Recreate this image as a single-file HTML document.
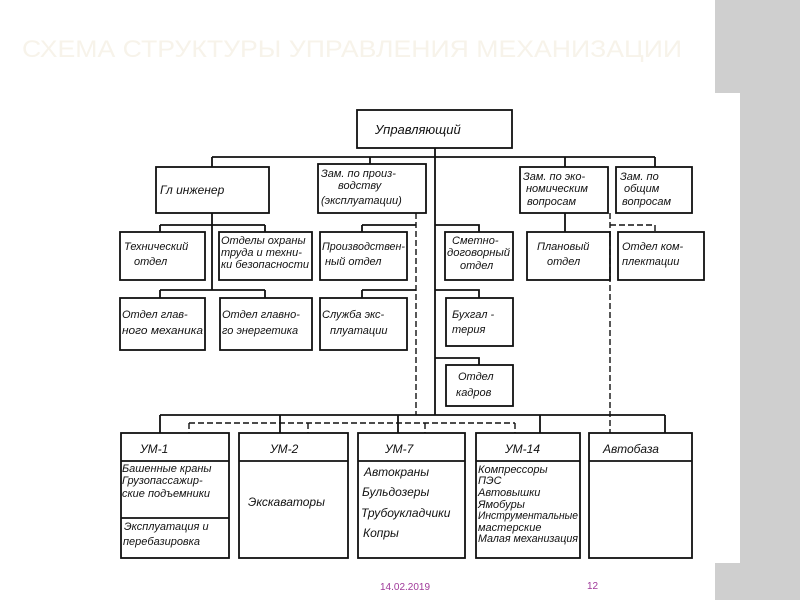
<!DOCTYPE html>
<html><head><meta charset="utf-8"><style>
body{margin:0;width:800px;height:600px;overflow:hidden;background:#fff;font-family:"Liberation Sans",sans-serif}
</style></head><body>
<svg width="800" height="600" xmlns="http://www.w3.org/2000/svg" style="position:absolute;left:0;top:0">
<rect x="715" y="0" width="85" height="93" fill="#cfcfcf"/>
<rect x="740" y="93" width="60" height="470" fill="#cfcfcf"/>
<rect x="715" y="563" width="85" height="37" fill="#cfcfcf"/>
<text x="22" y="57" font-size="24" fill="#f7f3ea" font-family="Liberation Sans,sans-serif" textLength="660" lengthAdjust="spacingAndGlyphs">СХЕМА СТРУКТУРЫ УПРАВЛЕНИЯ МЕХАНИЗАЦИИ</text>
<g fill="none" stroke="#111" stroke-width="1.8">
<rect x="357" y="110" width="155" height="38"/>
<rect x="156" y="167" width="113" height="46"/>
<rect x="318" y="164" width="108" height="49"/>
<rect x="520" y="167" width="88" height="46"/>
<rect x="616" y="167" width="76" height="46"/>
<rect x="120" y="232" width="85" height="48"/>
<rect x="219" y="232" width="93" height="48"/>
<rect x="320" y="232" width="87" height="48"/>
<rect x="445" y="232" width="68" height="48"/>
<rect x="527" y="232" width="83" height="48"/>
<rect x="618" y="232" width="86" height="48"/>
<rect x="120" y="298" width="85" height="52"/>
<rect x="220" y="298" width="92" height="52"/>
<rect x="320" y="298" width="87" height="52"/>
<rect x="446" y="298" width="67" height="48"/>
<rect x="446" y="365" width="67" height="41"/>
<rect x="121" y="433" width="108" height="125"/><line x1="121" y1="461" x2="229" y2="461"/><line x1="121" y1="518" x2="229" y2="518"/>
<rect x="239" y="433" width="109" height="125"/><line x1="239" y1="461" x2="348" y2="461"/>
<rect x="358" y="433" width="107" height="125"/><line x1="358" y1="461" x2="465" y2="461"/>
<rect x="476" y="433" width="104" height="125"/><line x1="476" y1="461" x2="580" y2="461"/>
<rect x="589" y="433" width="103" height="125"/><line x1="589" y1="461" x2="692" y2="461"/>
<path d="M435 148V415M212 157H655M212 157V167M370 157V164M565 157V167M655 157V167"/>
<path d="M212 213V290M160 225H265M160 225V232M265 225V232M160 290H265M160 290V298M265 290V298"/>
<path d="M362 225H416M362 225V232M362 290H416M362 290V298"/>
<path d="M435 225H479V232M435 290H479V298M435 358H479V365M565 213V232"/>
<path d="M160 415H665M160 415V433M280 415V433M398 415V433M540 415V433M665 415V433"/>
</g>
<g fill="none" stroke="#111" stroke-width="1.4" stroke-dasharray="6,3">
<path d="M416 213V415M610 213V433M610 225H655V232M189 423H515M189 423V433M308 423V433M425 423V433M515 423V433"/>
</g>
<g font-style="italic" font-size="11" fill="#111" font-family="Liberation Sans,sans-serif">
<text x="375" y="134" font-size="13">Управляющий</text>
<text x="160" y="194" font-size="12">Гл   инженер</text>
<text x="321" y="177">Зам. по произ-</text><text x="338" y="189">водству</text><text x="321" y="204">(эксплуатации)</text>
<text x="523" y="180">Зам. по эко-</text><text x="526" y="192">номическим</text><text x="527" y="205">вопросам</text>
<text x="620" y="180">Зам.  по</text><text x="624" y="192">общим</text><text x="622" y="205">вопросам</text>
<text x="124" y="250">Технический</text><text x="134" y="265">отдел</text>
<text x="221" y="244">Отделы охраны</text><text x="221" y="256">труда и техни-</text><text x="221" y="268" textLength="88" lengthAdjust="spacingAndGlyphs">ки безопасности</text>
<text x="322" y="250" textLength="83" lengthAdjust="spacingAndGlyphs">Производствен-</text><text x="325" y="265">ный отдел</text>
<text x="452" y="244">Сметно-</text><text x="447" y="256" textLength="63" lengthAdjust="spacingAndGlyphs">договорный</text><text x="460" y="269">отдел</text>
<text x="537" y="250">Плановый</text><text x="547" y="265">отдел</text>
<text x="622" y="250">Отдел ком-</text><text x="622" y="265">плектации</text>
<text x="122" y="318">Отдел глав-</text><text x="122" y="334" textLength="81" lengthAdjust="spacingAndGlyphs">ного механика</text>
<text x="222" y="318">Отдел главно-</text><text x="222" y="334">го энергетика</text>
<text x="322" y="318">Служба экс-</text><text x="330" y="334">плуатации</text>
<text x="452" y="318">Бухгал -</text><text x="452" y="333">терия</text>
<text x="458" y="380">Отдел</text><text x="456" y="396">кадров</text>
<text x="140" y="453" font-size="12">УМ-1</text>
<text x="270" y="453" font-size="12">УМ-2</text>
<text x="385" y="453" font-size="12">УМ-7</text>
<text x="505" y="453" font-size="12">УМ-14</text>
<text x="603" y="453" font-size="12">Автобаза</text>
<text x="122" y="472">Башенные  краны</text><text x="122" y="484">Грузопассажир-</text><text x="122" y="497" textLength="88" lengthAdjust="spacingAndGlyphs">ские  подъемники</text>
<text x="124" y="530">Эксплуатация  и</text><text x="123" y="545">перебазировка</text>
<text x="248" y="506" font-size="12">Экскаваторы</text>
<text x="364" y="476" font-size="12">Автокраны</text><text x="362" y="496" font-size="12">Бульдозеры</text><text x="361" y="517" font-size="12">Трубоукладчики</text><text x="363" y="537" font-size="12">Копры</text>
<text x="478" y="473">Компрессоры</text><text x="478" y="484">ПЭС</text><text x="478" y="496">Автовышки</text><text x="478" y="508">Ямобуры</text><text x="478" y="519" textLength="100" lengthAdjust="spacingAndGlyphs">Инструментальные</text><text x="478" y="531">мастерские</text><text x="478" y="542" textLength="100" lengthAdjust="spacingAndGlyphs">Малая механизация</text>
</g>
<text x="380" y="590" font-size="10" fill="#a03a9a">14.02.2019</text>
<text x="587" y="589" font-size="10" fill="#a03a9a">12</text>
</svg>
</body></html>
